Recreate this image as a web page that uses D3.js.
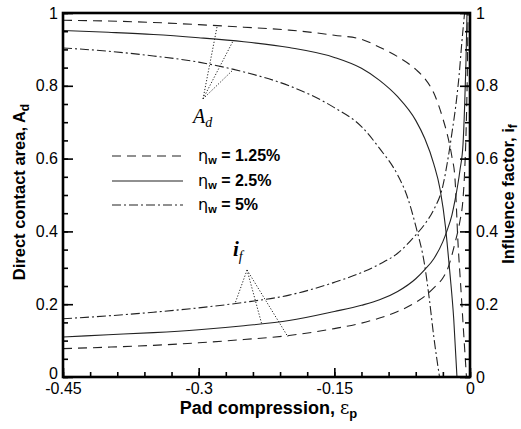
<!DOCTYPE html>
<html>
<head>
<meta charset="utf-8">
<script src="https://cdn.jsdelivr.net/npm/d3@7"></script>
<style>
  html, body { margin: 0; padding: 0; background: #fff; }
  svg { display: block; }
  text { font-family: "Liberation Sans", Arial, sans-serif; fill: #000; }
</style>
</head>
<body>
<svg id="chart" width="521" height="429"></svg>
<script>
// ---- Data ----
// Direct contact area A_d (left axis)
const adX_125 = [-0.45,-0.40,-0.35,-0.30,-0.25,-0.20,-0.15,-0.12,-0.10,-0.08,-0.06,-0.05,-0.04,-0.03,-0.025,-0.02,-0.0166,-0.0133,-0.010,-0.007,-0.0039];
const adY_125 = [0.980,0.978,0.974,0.968,0.961,0.953,0.939,0.928,0.906,0.880,0.845,0.820,0.780,0.710,0.665,0.605,0.545,0.37,0.24,0.12,0.0];
const adX_25  = [-0.45,-0.40,-0.35,-0.30,-0.25,-0.20,-0.15,-0.12,-0.10,-0.08,-0.06,-0.05,-0.04,-0.033,-0.027,-0.025,-0.022,-0.018,-0.0144];
const adY_25  = [0.952,0.947,0.941,0.932,0.921,0.905,0.878,0.848,0.815,0.770,0.705,0.655,0.585,0.515,0.41,0.36,0.28,0.16,0.0];
const adX_5   = [-0.45,-0.40,-0.35,-0.30,-0.25,-0.20,-0.15,-0.12,-0.10,-0.08,-0.07,-0.06,-0.05,-0.045,-0.04,-0.0337];
const adY_5   = [0.904,0.895,0.882,0.865,0.838,0.800,0.740,0.688,0.628,0.555,0.500,0.415,0.305,0.215,0.11,0.0];
// Influence factor i_f (right axis)
const ifX_125 = [-0.45,-0.40,-0.35,-0.30,-0.25,-0.20,-0.15,-0.12,-0.10,-0.08,-0.06,-0.05,-0.04,-0.03,-0.025,-0.02,-0.0166,-0.013,-0.011,-0.0077,-0.006,-0.0045,-0.0035,-0.0028,-0.0022];
const ifY_125 = [0.078,0.082,0.087,0.094,0.103,0.114,0.133,0.148,0.162,0.180,0.205,0.222,0.245,0.272,0.295,0.335,0.368,0.405,0.430,0.490,0.56,0.66,0.76,0.86,1.0];
const ifX_25  = [-0.45,-0.40,-0.35,-0.30,-0.25,-0.20,-0.15,-0.12,-0.10,-0.08,-0.06,-0.05,-0.04,-0.03,-0.025,-0.02,-0.0166,-0.011,-0.0077,-0.006,-0.0045,-0.0033];
const ifY_25  = [0.110,0.116,0.122,0.130,0.141,0.155,0.180,0.197,0.212,0.235,0.270,0.295,0.325,0.372,0.405,0.445,0.485,0.57,0.64,0.74,0.86,1.0];
const ifX_5   = [-0.45,-0.40,-0.35,-0.30,-0.25,-0.20,-0.15,-0.12,-0.10,-0.08,-0.06,-0.05,-0.04,-0.03,-0.025,-0.02,-0.015,-0.012,-0.009,-0.006];
const ifY_5   = [0.160,0.168,0.178,0.190,0.205,0.225,0.260,0.287,0.310,0.340,0.390,0.420,0.460,0.525,0.590,0.670,0.760,0.830,0.920,1.0];

const xTicks = [-0.45,-0.3,-0.15,0];
const xTickLabels = ["-0.45","-0.3","-0.15","0"];
const yTicks = [0,0.2,0.4,0.6,0.8,1];
const yTickLabels = ["0","0.2","0.4","0.6","0.8","1"];
const seriesNames = ["1.25%","2.5%","5%"];

// annotation pointers (data coordinates)
const adApex = [-0.2952, 0.764];
const adTargets = [[-0.2797, 0.962], [-0.2620, 0.923], [-0.2598, 0.849]];
const ifApex = [-0.2465, 0.294];
const ifTargets = [[-0.2595, 0.204], [-0.2300, 0.143], [-0.2012, 0.110]];

// ---- Layout ----
const svg = d3.select("#chart");
const L = 63, R = 470, T = 13, B = 377;
const x = d3.scaleLinear().domain([-0.45, 0]).range([L, R]);
const y = d3.scaleLinear().domain([0, 1]).range([B, T]);

const dashStyles = ["9,6", null, "9,3,2,3"];

svg.append("defs").append("clipPath").attr("id","clip")
  .append("rect").attr("x",L).attr("y",T).attr("width",R-L).attr("height",B-T);

const line = d3.line().x(d => x(d[0])).y(d => y(d[1])).curve(d3.curveMonotoneX);
const g = svg.append("g").attr("clip-path","url(#clip)");
const series = [
  [adX_125, adY_125, 0], [adX_25, adY_25, 1], [adX_5, adY_5, 2],
  [ifX_125, ifY_125, 0], [ifX_25, ifY_25, 1], [ifX_5, ifY_5, 2]
];
series.forEach(([xs, ys, k]) => {
  g.append("path").datum(xs.map((v,i) => [v, ys[i]]))
    .attr("d", line).attr("fill","none").attr("stroke","#222")
    .attr("stroke-width",1.1)
    .attr("stroke-dasharray", dashStyles[k]);
});

// ---- Axes ----
const minorX = d3.range(-0.45, 0.0001, 0.03);
const minorY = d3.range(0, 1.0001, 0.05);
function styleAxis(sel){
  sel.select(".domain").remove();
  sel.selectAll(".tick line").attr("stroke","#000").attr("stroke-width",1.6);
  sel.selectAll("text").style("font-size","16px").style("font-family","'Liberation Sans', Arial, sans-serif");
}
// bottom
svg.append("g").attr("transform",`translate(0,${B})`)
  .call(d3.axisBottom(x).tickValues(minorX).tickSize(-5).tickFormat(""))
  .call(styleAxis);
svg.append("g").attr("transform",`translate(0,${B})`)
  .call(d3.axisBottom(x).tickValues(xTicks).tickSize(-9).tickPadding(6)
        .tickFormat((d,i) => xTickLabels[i]))
  .call(styleAxis);
// left
svg.append("g").attr("transform",`translate(${L},0)`)
  .call(d3.axisLeft(y).tickValues(minorY).tickSize(-5).tickFormat(""))
  .call(styleAxis);
const leftAx = svg.append("g").attr("transform",`translate(${L},0)`)
  .call(d3.axisLeft(y).tickValues(yTicks).tickSize(-10).tickPadding(5)
        .tickFormat((d,i) => yTickLabels[i]))
  .call(styleAxis);
// lift the corner "0" slightly, as in the reference
leftAx.selectAll(".tick text").filter(d => d === 0).attr("dy","0.1em");
// right
svg.append("g").attr("transform",`translate(${R},0)`)
  .call(d3.axisRight(y).tickValues(minorY).tickSize(-5).tickFormat(""))
  .call(styleAxis);
svg.append("g").attr("transform",`translate(${R},0)`)
  .call(d3.axisRight(y).tickValues(yTicks).tickSize(-10).tickPadding(6)
        .tickFormat((d,i) => yTickLabels[i]))
  .call(styleAxis);

// frame
svg.append("rect").attr("x",L).attr("y",T).attr("width",R-L).attr("height",B-T)
  .attr("fill","none").attr("stroke","#000").attr("stroke-width",2.6);

// ---- Axis titles ----
const xt = svg.append("text").attr("x",(L+R)/2+2).attr("y",414).attr("text-anchor","middle")
  .style("font-size","18px").style("font-weight","bold");
xt.append("tspan").text("Pad compression, ");
xt.append("tspan").text("ε").style("font-weight","normal").style("font-family","'DejaVu Serif', serif");
xt.append("tspan").text("p").attr("dy",4).style("font-size","13px");

const yl = svg.append("text").attr("transform","translate(25,192) rotate(-90)").attr("text-anchor","middle")
  .style("font-size","16.5px").style("font-weight","bold");
yl.append("tspan").text("Direct contact area, A");
yl.append("tspan").text("d").attr("dy",4).style("font-size","12px");

const yr = svg.append("text").attr("transform","translate(514,194) rotate(-90)").attr("text-anchor","middle")
  .style("font-size","16.5px").style("font-weight","bold");
yr.append("tspan").text("Influence factor, i");
yr.append("tspan").text("f").attr("dy",3).style("font-size","12px");

// ---- Legend ----
const legY = [156, 181, 205];
seriesNames.forEach((nm, k) => {
  svg.append("line").attr("x1",112).attr("x2",183).attr("y1",legY[k]).attr("y2",legY[k])
    .attr("stroke","#222").attr("stroke-width",1.1).attr("stroke-dasharray",dashStyles[k]);
  const t = svg.append("text").attr("x",198).attr("y",legY[k]+5).style("font-size","16px").style("font-weight","bold");
  t.append("tspan").text("η").style("font-weight","normal").style("font-family","'DejaVu Sans', sans-serif");
  t.append("tspan").text("w").attr("dy",3).style("font-size","11px");
  t.append("tspan").text(" = " + nm).attr("dy",-3);
});

// ---- Annotations ----
const dotted = "1.2,1.8";
adTargets.forEach(p => {
  svg.append("line").attr("x1",x(adApex[0])).attr("y1",y(adApex[1]))
    .attr("x2",x(p[0])).attr("y2",y(p[1]))
    .attr("stroke","#222").attr("stroke-width",1).attr("stroke-dasharray",dotted);
});
ifTargets.forEach(p => {
  svg.append("line").attr("x1",x(ifApex[0])).attr("y1",y(ifApex[1]))
    .attr("x2",x(p[0])).attr("y2",y(p[1]))
    .attr("stroke","#222").attr("stroke-width",1).attr("stroke-dasharray",dotted);
});
const ad = svg.append("text").attr("x",193).attr("y",123)
  .style("font-family","'Liberation Serif', serif").style("font-style","italic").style("font-size","20px");
ad.append("tspan").text("A");
ad.append("tspan").text("d").attr("dy",4).style("font-size","14px");
const itxt = svg.append("text").attr("x",233).attr("y",256)
  .style("font-family","'Liberation Serif', serif").style("font-style","italic").style("font-weight","bold").style("font-size","21px");
itxt.append("tspan").text("i");
itxt.append("tspan").text("f").attr("dy",5).style("font-size","14px").style("font-weight","normal");
</script>
</body>
</html>
